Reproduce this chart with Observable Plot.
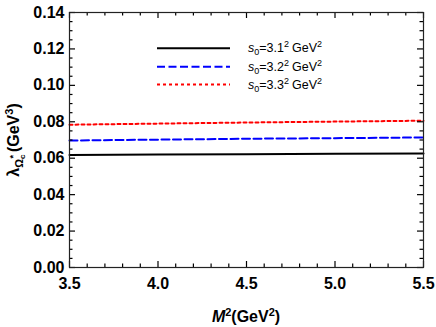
<!DOCTYPE html>
<html><head><meta charset="utf-8">
<script src="https://cdn.jsdelivr.net/npm/d3@7"></script>
<script src="https://cdn.jsdelivr.net/npm/@observablehq/plot@0.6"></script>
<style>body{margin:0;background:#fff} svg{font-family:"Liberation Sans",Arial,sans-serif;}</style>
</head><body><div id="chart"></div>
<script>
// Data
const M2 = [3.5, 4.0, 4.5, 5.0, 5.5];
const lambdaS31 = [0.0618, 0.0620, 0.0622, 0.0624, 0.0626];
const lambdaS32 = [0.0697, 0.0702, 0.0707, 0.0710, 0.0714];
const lambdaS33 = [0.0784, 0.0790, 0.0796, 0.0801, 0.0806];
const s0Labels = ["3.1", "3.2", "3.3"];
const seriesColors = ["#000000", "#0000ff", "#ff0000"];
const seriesDash = [null, "8,3.5", "3,3"];
const xTicks = [3.5, 4.0, 4.5, 5.0, 5.5];
const yTicks = [0.00, 0.02, 0.04, 0.06, 0.08, 0.10, 0.12, 0.14];

const seriesValues = [lambdaS31, lambdaS32, lambdaS33];
const rows = seriesValues.flatMap((vals, k) => vals.map((v, i) => ({M2: M2[i], lambda: v, s: s0Labels[k]})));

const xMinor = d3.ticks(3.5, 5.5, 20).filter(t => !xTicks.some(m => Math.abs(m - t) < 1e-9));
const yMinor = d3.ticks(0, 0.14, 28).filter(t => !yTicks.some(m => Math.abs(m - t) < 1e-9));

const W = 436, H = 327, mL = 69, mR = 13, mT = 12, mB = 60;
const fw = W - mL - mR, fh = H - mT - mB;
const tickStyle = {stroke: "#000", strokeWidth: 1.2};
const xt = (data, len, side) => Plot.ruleX(data, {x: d => d, ...tickStyle, ...(side === "bottom" ? {insetTop: fh - len} : {insetBottom: fh - len})});
const yt = (data, len, side) => Plot.ruleY(data, {y: d => d, ...tickStyle, ...(side === "left" ? {insetRight: fw - len} : {insetLeft: fw - len})});

const svg = Plot.plot({
  width: W, height: H,
  marginLeft: mL, marginRight: mR, marginTop: mT, marginBottom: mB,
  x: {domain: [3.5, 5.5]},
  y: {domain: [0, 0.14]},
  marks: [
    Plot.axisX({ticks: xTicks, tickSize: 0, tickPadding: 10, tickFormat: d3.format(".1f"), fontSize: 16, fontWeight: "bold", fill: "#000", label: null}),
    Plot.axisY({ticks: yTicks, tickSize: 0, tickPadding: 5, tickFormat: d3.format(".2f"), fontSize: 16, fontWeight: "bold", fill: "#000", label: null}),
    ...s0Labels.map((s, k) => Plot.line(rows.filter(r => r.s === s), {
      x: "M2", y: "lambda", stroke: seriesColors[k], strokeWidth: 2,
      strokeDasharray: seriesDash[k]
    })),
    // inward ticks on all four sides
    xt(xTicks, 6, "bottom"), xt(xMinor, 3.5, "bottom"),
    xt(xTicks, 6, "top"), xt(xMinor, 3.5, "top"),
    yt(yTicks, 6, "left"), yt(yMinor, 3.5, "left"),
    yt(yTicks, 6, "right"), yt(yMinor, 3.5, "right"),
    Plot.frame({stroke: "#222", strokeWidth: 1.2})
  ]
});

const g = d3.select(svg);

// y-axis label
const yl = g.append("text").attr("transform", "translate(18.5,140) rotate(-90)")
  .attr("text-anchor", "middle").attr("font-size", 16).attr("font-weight", "bold").attr("fill", "#000");
yl.append("tspan").text("λ");
yl.append("tspan").attr("font-size", 11).attr("dy", 4).text("Ω");
yl.append("tspan").attr("font-size", 8).attr("dy", 2).text("c");
yl.append("tspan").attr("font-size", 9).attr("dx", -4).attr("dy", -9).text("*");
yl.append("tspan").attr("dy", 3).attr("dx", 3).text("(GeV");
yl.append("tspan").attr("font-size", 11).attr("dy", -6).text("3");
yl.append("tspan").attr("dy", 6).text(")");

// x-axis label
const xl = g.append("text").attr("x", 246).attr("y", 322)
  .attr("text-anchor", "middle").attr("font-size", 16).attr("font-weight", "bold").attr("fill", "#000");
xl.append("tspan").attr("font-style", "italic").text("M");
xl.append("tspan").attr("font-size", 11).attr("dy", -6).text("2");
xl.append("tspan").attr("dy", 6).text("(GeV");
xl.append("tspan").attr("font-size", 11).attr("dy", -6).text("2");
xl.append("tspan").attr("dy", 6).text(")");

// legend
const legY = [48.3, 66.7, 84.5];
s0Labels.forEach((s, k) => {
  const y = legY[k];
  g.append("line").attr("x1", 157).attr("x2", 230).attr("y1", y).attr("y2", y)
    .attr("stroke", seriesColors[k]).attr("stroke-width", 2)
    .attr("stroke-dasharray", seriesDash[k]);
  const t = g.append("text").attr("x", 248).attr("y", y + 4).attr("font-size", 12.5)
    .attr("text-anchor", "start").attr("fill", "#000");
  t.append("tspan").attr("font-style", "italic").text("s");
  t.append("tspan").attr("font-size", 9).attr("dy", 3).text("0");
  t.append("tspan").attr("dy", -3).text("=" + s);
  t.append("tspan").attr("font-size", 9).attr("dy", -5).text("2");
  t.append("tspan").attr("dy", 5).attr("dx", 3).text("GeV");
  t.append("tspan").attr("font-size", 9).attr("dy", -5).text("2");
});

document.getElementById("chart").appendChild(svg);
</script>
</body></html>
